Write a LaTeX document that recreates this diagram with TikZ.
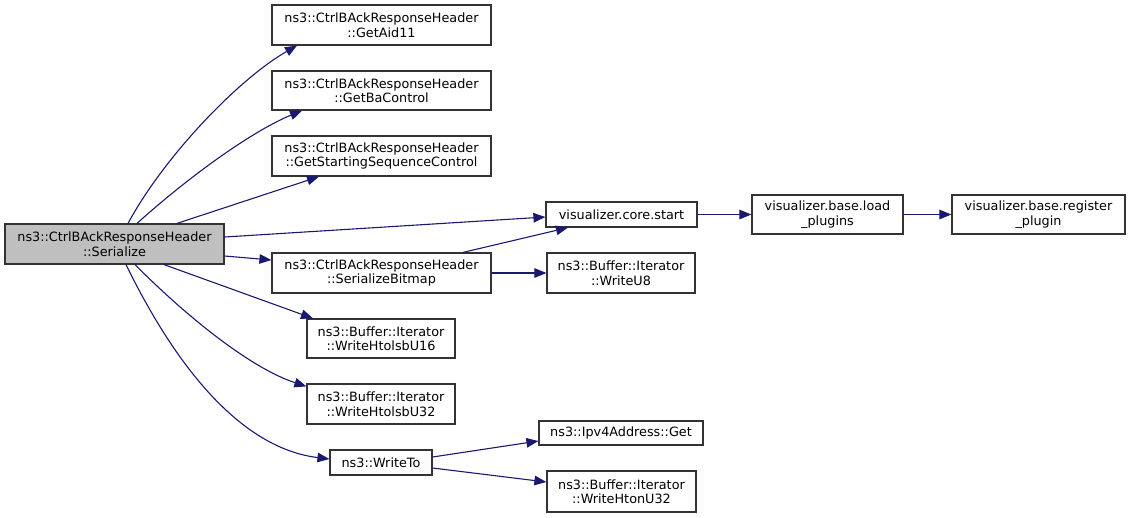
\documentclass[tikz,border=0pt]{standalone}
\usepackage{fontspec}
\setmainfont{DejaVu Sans}
\usetikzlibrary{arrows.meta}
\definecolor{edgeblue}{HTML}{191970}
\definecolor{boxline}{HTML}{333333}
\definecolor{hlfill}{HTML}{BFBFBF}
\tikzset{
  fn/.style={draw=boxline, line width=1.2pt, fill=white, rectangle, inner sep=0pt, align=center,
    font=\fontsize{12.8}{14.5}\selectfont},
  hl/.style={fn, fill=hlfill},
  call/.style={draw=edgeblue, line width=1.1pt, -{Triangle[length=12pt,width=9.5pt]}}
}
\begin{document}
\begin{tikzpicture}[x=1pt,y=-1pt]
\useasboundingbox (0,0) rectangle (1131,517);
\node[hl, minimum width=219pt, minimum height=40pt] (ser) at (114.5,244) {ns3::CtrlBAckResponseHeader\\::Serialize};
\node[fn, minimum width=219pt, minimum height=40pt] (aid) at (381.5,25) {ns3::CtrlBAckResponseHeader\\::GetAid11};
\node[fn, minimum width=219pt, minimum height=39pt] (bac) at (381.5,90.5) {ns3::CtrlBAckResponseHeader\\::GetBaControl};
\node[fn, minimum width=219pt, minimum height=40pt] (gss) at (381.5,156) {ns3::CtrlBAckResponseHeader\\::GetStartingSequenceControl};
\node[fn, minimum width=219pt, minimum height=40pt] (sbm) at (381.5,273) {ns3::CtrlBAckResponseHeader\\::SerializeBitmap};
\node[fn, minimum width=148pt, minimum height=39pt] (u16) at (381,338.5) {ns3::Buffer::Iterator\\::WriteHtolsbU16};
\node[fn, minimum width=148pt, minimum height=40pt] (u32) at (381,404) {ns3::Buffer::Iterator\\::WriteHtolsbU32};
\node[fn, minimum width=102pt, minimum height=25pt] (wto) at (381,462.5) {ns3::WriteTo};
\node[fn, minimum width=151pt, minimum height=25pt] (cst) at (621.5,214.5) {visualizer.core.start};
\node[fn, minimum width=148pt, minimum height=40pt] (wu8) at (621,273) {ns3::Buffer::Iterator\\::WriteU8};
\node[fn, minimum width=151pt, minimum height=39pt] (lpl) at (827.5,214.5) {visualizer.base.load\\\_plugins};
\node[fn, minimum width=173pt, minimum height=39pt] (reg) at (1038.5,214.5) {visualizer.base.register\\\_plugin};
\node[fn, minimum width=164pt, minimum height=24pt] (ipv) at (621,433) {ns3::Ipv4Address::Get};
\node[fn, minimum width=149pt, minimum height=41pt] (hto) at (621.5,491.5) {ns3::Buffer::Iterator\\::WriteHtonU32};

\draw[call] ([xshift=13.5pt]ser.north) .. controls (165,155) and (240,78) .. ([xshift=-84.5pt]aid.south);
\draw[call] ([xshift=22.5pt]ser.north) .. controls (185,180) and (250,132) .. ([xshift=-79.5pt]bac.south);
\draw[call] ([xshift=62.5pt]ser.north) -- ([xshift=-62.5pt]gss.south);
\draw[call] ([yshift=7pt]ser.east) -- ([yshift=-2.5pt]cst.west);
\draw[call] ([yshift=-12pt]ser.east) -- ([yshift=13pt]sbm.west);
\draw[call] ([xshift=49.5pt]ser.south) -- ([xshift=-68pt]u16.north);
\draw[call] ([xshift=20.5pt]ser.south) .. controls (185,315) and (250,368) .. ([yshift=-3pt]u32.north west);
\draw[call] ([xshift=11.5pt]ser.south) .. controls (175,365) and (240,448) .. ([yshift=3.5pt]wto.west);
\draw[call] ([xshift=81.5pt]sbm.north) -- ([xshift=-53.5pt]cst.south);
\draw[call] (sbm.east) -- (wu8.west);
\draw[call] (cst.east) -- (lpl.west);
\draw[call] (lpl.east) -- (reg.west);
\draw[call] ([yshift=5.5pt]wto.east) -- ([yshift=-8pt]ipv.west);
\draw[call] ([yshift=-5.5pt]wto.east) -- ([yshift=9.5pt]hto.west);
\end{tikzpicture}
\end{document}
